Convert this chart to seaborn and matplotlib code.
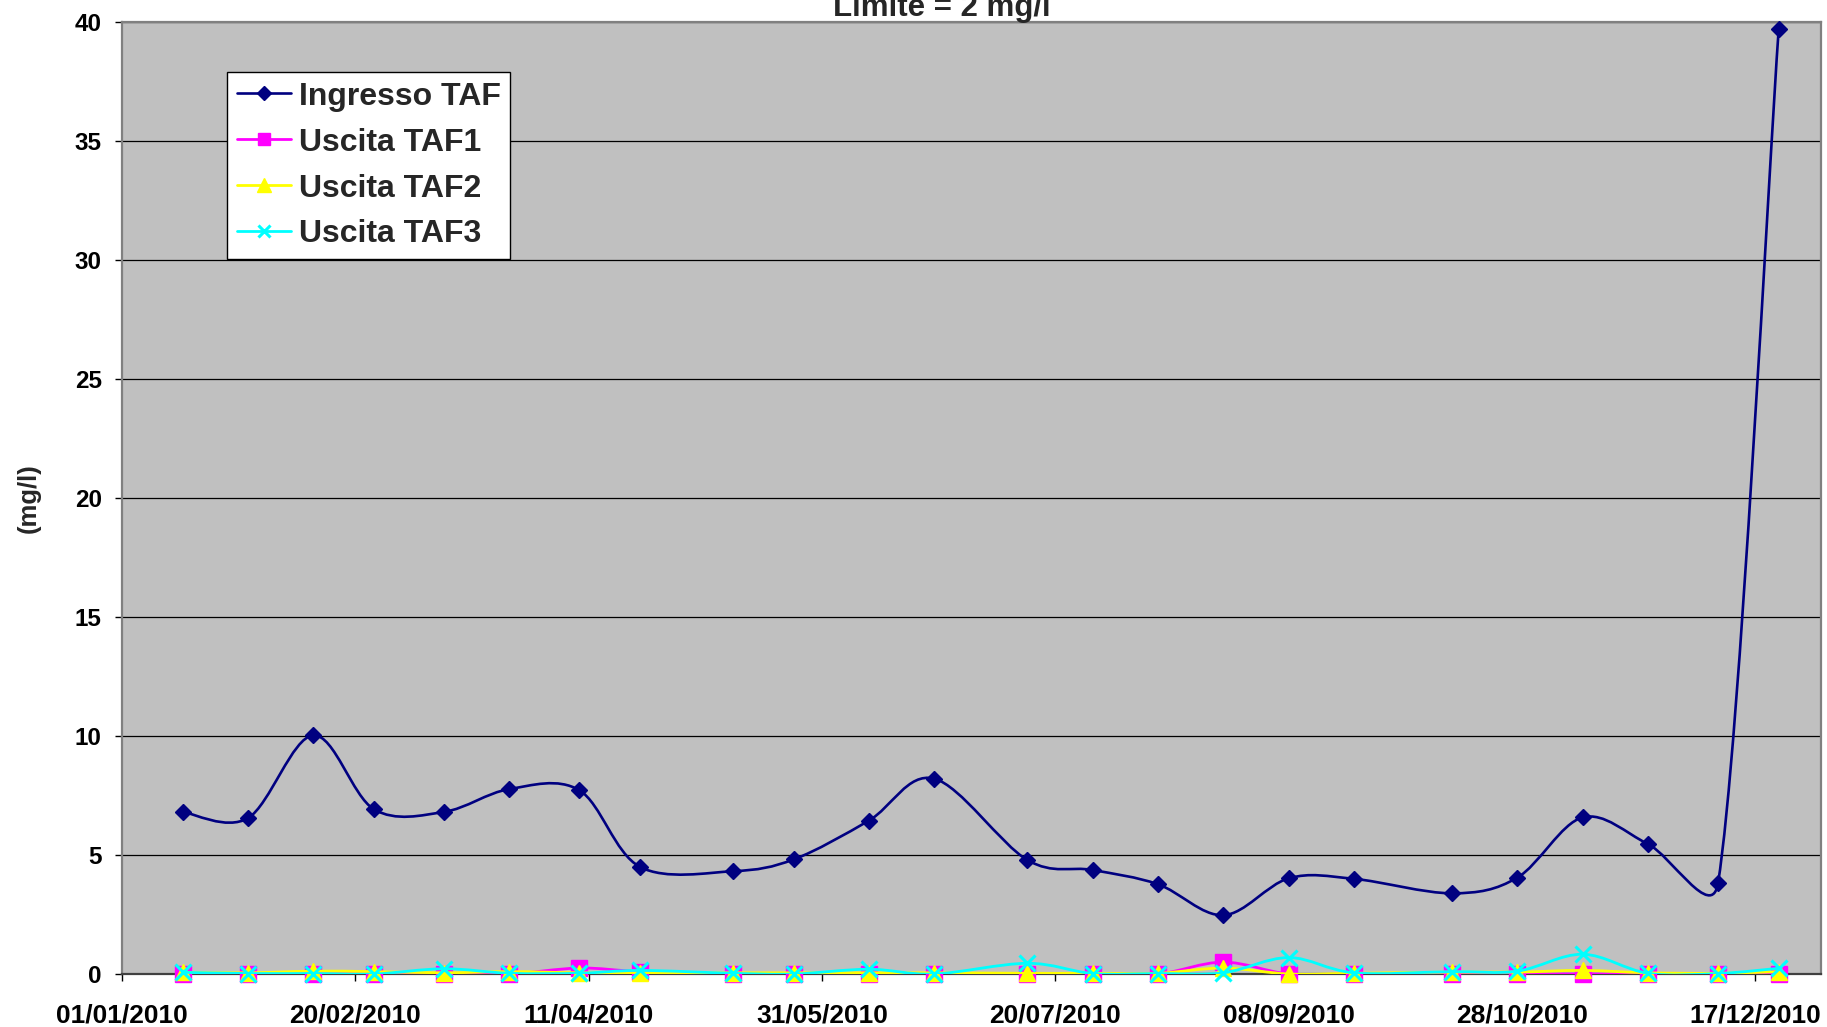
import numpy as np
import pandas as pd
import matplotlib
matplotlib.use("Agg")
import matplotlib.pyplot as plt
import matplotlib.dates as mdates
import matplotlib.ticker as mticker
from matplotlib.path import Path
from matplotlib.patches import PathPatch
from matplotlib.lines import Line2D
import seaborn as sns

# ---------------- data ----------------
dates = ["2010-01-14", "2010-01-28", "2010-02-11", "2010-02-24", "2010-03-11",
         "2010-03-25", "2010-04-09", "2010-04-22", "2010-05-12", "2010-05-25",
         "2010-06-10", "2010-06-24", "2010-07-14", "2010-07-28", "2010-08-11",
         "2010-08-25", "2010-09-08", "2010-09-22", "2010-10-13", "2010-10-27",
         "2010-11-10", "2010-11-24", "2010-12-09", "2010-12-22"]

ingresso_taf = [6.81, 6.55, 10.03, 6.92, 6.81, 7.77, 7.72, 4.50, 4.32, 4.82,
                6.44, 8.21, 4.79, 4.37, 3.77, 2.47, 4.02, 4.00, 3.39, 4.05,
                6.58, 5.46, 3.82, 39.7]
uscita_taf1 = [0.0, 0.0, 0.0, 0.0, 0.0, 0.0, 0.25, 0.1, 0.0, 0.0,
               0.0, 0.0, 0.0, 0.0, 0.0, 0.5, 0.0, 0.0, 0.0, 0.0,
               0.0, 0.0, 0.0, 0.0]
uscita_taf2 = [0.07, 0.05, 0.12, 0.1, 0.05, 0.1, 0.05, 0.05, 0.05, 0.05,
               0.05, 0.05, 0.03, 0.03, 0.03, 0.25, 0.0, 0.03, 0.08, 0.08,
               0.15, 0.05, 0.03, 0.1]
uscita_taf3 = [0.07, 0.02, 0.02, 0.0, 0.22, 0.03, 0.03, 0.15, 0.03, 0.0,
               0.2, 0.0, 0.45, 0.02, 0.02, 0.05, 0.69, 0.05, 0.1, 0.12,
               0.83, 0.03, 0.02, 0.24]

series_names = ["Ingresso TAF", "Uscita TAF1", "Uscita TAF2", "Uscita TAF3"]
y_ticks = [0, 5, 10, 15, 20, 25, 30, 35, 40]
x_tick_labels = ["01/01/2010", "20/02/2010", "11/04/2010", "31/05/2010",
                 "20/07/2010", "08/09/2010", "28/10/2010", "17/12/2010"]
x_range = ["2010-01-01", "2010-12-31"]
title_text = "Limite = 2 mg/l"
y_label = "(mg/l)"

# ---------------- styles ----------------
styles = [
    dict(color="#000080", marker="D", ms=8.2, lw=1.9, mew=1.0),
    dict(color="#FF00FF", marker="s", ms=11.0, lw=2.0, mew=1.0),
    dict(color="#FFFF00", marker="^", ms=11.5, lw=2.0, mew=1.0),
    dict(color="#00FFFF", marker="x", ms=11.0, lw=2.0, mew=2.2),
]

sns.set_style("white")
plt.rcParams["font.family"] = ["Liberation Sans", "DejaVu Sans"]
plt.rcParams["font.weight"] = "bold"

W, H = 1827, 1027
fig = plt.figure(figsize=(W / 100, H / 100), dpi=100)
ax = fig.add_axes([122 / W, 1 - 974 / H, (1820.7 - 122) / W, (974 - 22) / H])
ax.set_facecolor("#C0C0C0")

x_dt = pd.to_datetime(dates)
x_num = mdates.date2num(x_dt)

# axes limits first (smoothing is computed in screen space)
ax.set_xlim(mdates.date2num(pd.to_datetime(x_range[0])),
            mdates.date2num(pd.to_datetime(x_range[1])))
ax.set_ylim(y_ticks[0], y_ticks[-1])


def smooth_path(x, y):
    """Excel-style smoothed line: Bezier segments, control points computed
    in display space with the tangent limited to half the segment length."""
    tr = ax.transData
    P = tr.transform(np.column_stack([x, y]))
    n = len(P)
    verts = [P[0]]
    codes = [Path.MOVETO]
    for i in range(n - 1):
        p0 = P[max(i - 1, 0)]
        p1 = P[i]
        p2 = P[i + 1]
        p3 = P[min(i + 2, n - 1)]
        d02 = np.hypot(*(p2 - p0))
        d12 = np.hypot(*(p2 - p1))
        d13 = np.hypot(*(p3 - p1))
        f0 = 1 / 6.0
        f1 = 1 / 6.0
        if d02 / 6.0 >= d12 / 2.0 and d02 > 0:
            f0 = d12 / d02 / 2.0
        if d13 / 6.0 >= d12 / 2.0 and d13 > 0:
            f1 = d12 / d13 / 2.0
        c1 = p1 + (p2 - p0) * f0
        c2 = p2 - (p3 - p1) * f1
        verts += [c1, c2, p2]
        codes += [Path.CURVE4] * 3
    verts = tr.inverted().transform(np.array(verts))
    return Path(verts, codes)


all_values = [ingresso_taf, uscita_taf1, uscita_taf2, uscita_taf3]
for k, (name, vals, st) in enumerate(zip(series_names, all_values, styles)):
    z = 3 + 2 * k
    patch = PathPatch(smooth_path(x_num, np.asarray(vals, float)),
                      facecolor="none", edgecolor=st["color"], lw=st["lw"],
                      zorder=z, capstyle="round", joinstyle="round")
    ax.add_patch(patch)
    df = pd.DataFrame({"date": x_dt, "val": vals})
    sns.lineplot(data=df, x="date", y="val", ax=ax, estimator=None, sort=False,
                 linestyle="none", marker=st["marker"], markersize=st["ms"],
                 color=st["color"], markerfacecolor=st["color"],
                 markeredgecolor=st["color"], markeredgewidth=st["mew"],
                 zorder=z + 1, legend=False, clip_on=False)

ax.set_xlim(mdates.date2num(pd.to_datetime(x_range[0])),
            mdates.date2num(pd.to_datetime(x_range[1])))
ax.set_ylim(y_ticks[0], y_ticks[-1])
tick_pos = mdates.date2num(pd.to_datetime(x_tick_labels, format="%d/%m/%Y"))
ax.xaxis.set_major_locator(mticker.FixedLocator(tick_pos))
ax.xaxis.set_major_formatter(mticker.FixedFormatter(x_tick_labels))
ax.set_yticks(y_ticks)
ax.set_yticklabels([str(v) for v in y_ticks])
ax.set_xlabel("")
ax.set_ylabel("")

ax.grid(axis="y", color="black", lw=0.9, zorder=1)
ax.grid(axis="x", visible=False)
ax.set_axisbelow(True)

ax.tick_params(axis="y", direction="out", length=5, width=1, pad=9.5,
               labelsize=17.5, colors="black", left=True)
ax.tick_params(axis="x", direction="out", length=5, width=1, pad=16,
               labelsize=19, colors="black", bottom=True)
for lab in ax.get_xticklabels() + ax.get_yticklabels():
    lab.set_fontweight("bold")

for side in ["top", "right", "left"]:
    ax.spines[side].set_color("#808080")
    ax.spines[side].set_linewidth(1.6)
ax.spines["bottom"].set_color("#404040")
ax.spines["bottom"].set_linewidth(1.6)

# legend
handles = [Line2D([], [], color=st["color"], lw=st["lw"], marker=st["marker"],
                  markersize=st["ms"] * 0.85, markerfacecolor=st["color"],
                  markeredgecolor=st["color"], markeredgewidth=st["mew"])
           for st in styles]
leg = ax.legend(handles, series_names, loc="upper left",
                bbox_to_anchor=(0.0618, 0.9475), borderaxespad=0,
                frameon=True, fancybox=False, edgecolor="black", framealpha=1,
                facecolor="white", prop={"size": 23, "weight": "bold"},
                handlelength=1.7, handletextpad=0.25, labelspacing=0.5,
                borderpad=0.3)
leg.get_frame().set_linewidth(1.0)
leg.set_zorder(20)

fig.text(942 / W, 1 - 16 / H, title_text, ha="center", va="baseline",
         fontsize=22.5, fontweight="bold")
fig.text(29 / W, 1 - 498 / H, y_label, rotation=90, ha="center", va="center",
         fontsize=18.5, fontweight="bold")

fig.savefig("out.png", dpi=100)
